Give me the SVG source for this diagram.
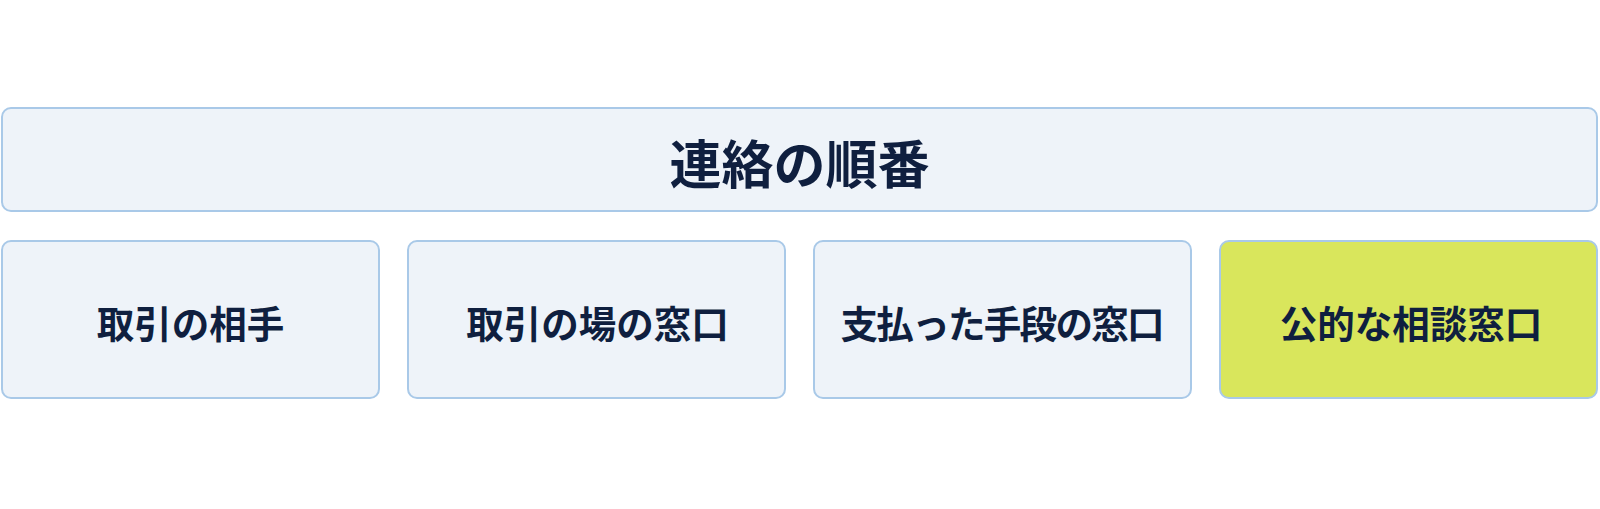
<svg xmlns="http://www.w3.org/2000/svg" width="1600" height="509" viewBox="0 0 1600 509">
<style>
.box{fill:#eef3f9;stroke:#a9c9e8;stroke-width:2}
.hl{fill:#d9e65c;stroke:#a9c9e8;stroke-width:2}
.t{font-family:"Noto Sans CJK JP","Noto Sans",sans-serif;font-weight:700;fill:#0f1f3f;text-anchor:middle;dominant-baseline:central}
.n{font-size:37.5px}
</style>
<rect width="1600" height="509" fill="#ffffff"/>
<g id="title">
<rect class="box" x="2" y="108" width="1595" height="103" rx="9"/>
<text class="t" x="799.5" y="161.5" font-size="52">連絡の順番</text>
</g>
<g id="connectors"></g>
<g id="node1">
<rect class="box" x="2" y="241" width="377" height="157" rx="9"/>
<text class="t n" x="190.5" y="321.5">取引の相手</text>
</g>
<g id="node2">
<rect class="box" x="408" y="241" width="377" height="157" rx="9"/>
<text class="t n" x="597.5" y="321.5">取引の場の窓口</text>
</g>
<g id="node3">
<rect class="box" x="814" y="241" width="377" height="157" rx="9"/>
<text class="t n" x="1002.5" y="321.5" textLength="324" lengthAdjust="spacing">支払った手段の窓口</text>
</g>
<g id="node4">
<rect class="hl" x="1220" y="241" width="377" height="157" rx="9"/>
<text class="t n" x="1411" y="321.5">公的な相談窓口</text>
</g>
</svg>
